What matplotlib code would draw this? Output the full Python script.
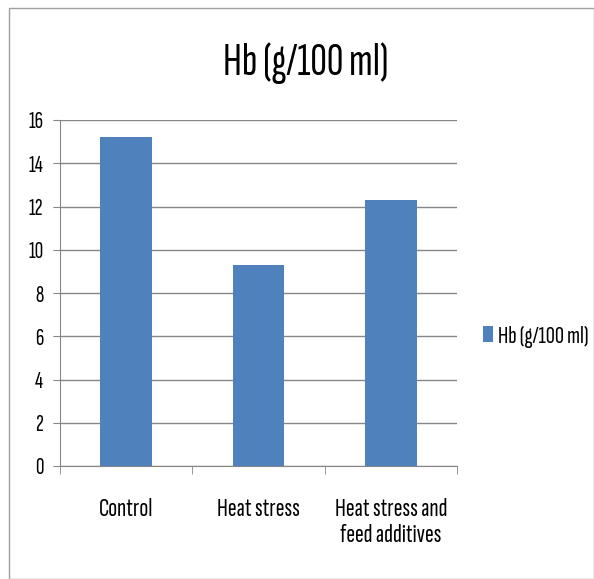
import matplotlib

matplotlib.use("Agg")
import matplotlib.pyplot as plt
from matplotlib.patches import Rectangle

# data
categories = ["Control", "Heat stress", "Heat stress and\nfeed additives"]
hb_values = [15.2, 9.3, 12.3]
series_name = "Hb (g/100 ml)"
y_ticks = [0, 2, 4, 6, 8, 10, 12, 14, 16]

plt.rcParams["font.family"] = ["Sofia Sans Extra Condensed", "DejaVu Sans"]

W, H = 594, 579
fig = plt.figure(figsize=(W / 100, H / 100), dpi=100)

# plot area in pixels: x 60..457, y 120..466
ax = fig.add_axes([60 / W, 1 - 466 / H, (457 - 60) / W, (466 - 120) / H])

bar_color = "#4f81bd"
grid_color = "#868686"
x = list(range(len(categories)))
ax.bar(x, hb_values, width=0.39, color=bar_color, label=series_name, zorder=3)

ax.set_xlim(-0.5, len(categories) - 0.5)
ax.set_ylim(0, 16)
ax.set_yticks(y_ticks)
ax.set_yticklabels([str(v) for v in y_ticks], fontsize=17)
ax.yaxis.grid(True, color=grid_color, linewidth=1.0, zorder=0)

ax.set_xticks(x)
ax.set_xticklabels(categories, fontsize=19, linespacing=1.15, va="top")
ax.tick_params(axis="x", length=0, pad=23)
ax.tick_params(axis="y", length=5, color=grid_color, pad=7)
# boundary ticks between categories
ax.set_xticks([-0.5, 0.5, 1.5, 2.5], minor=True)
ax.tick_params(axis="x", which="minor", length=6, color=grid_color)

for side in ("top", "right"):
    ax.spines[side].set_visible(False)
for side in ("left", "bottom"):
    ax.spines[side].set_color(grid_color)

fig.text(306 / W, 1 - 75 / H, series_name, fontsize=33, fontweight="medium",
         ha="center", va="baseline")

fig.legend(loc="center left", bbox_to_anchor=(483 / W, 1 - 337 / H),
           frameon=False, fontsize=18, handlelength=0.4, handleheight=0.6,
           handletextpad=0.2, borderpad=0, borderaxespad=0)

# outer chart border
fig.patches.append(Rectangle((9 / W, 0), 1 - 9 / W, 1 - 8 / H,
                             transform=fig.transFigure, fill=False,
                             edgecolor="#a0a0a0", linewidth=1.0))

fig.savefig("out.png", dpi=100)
